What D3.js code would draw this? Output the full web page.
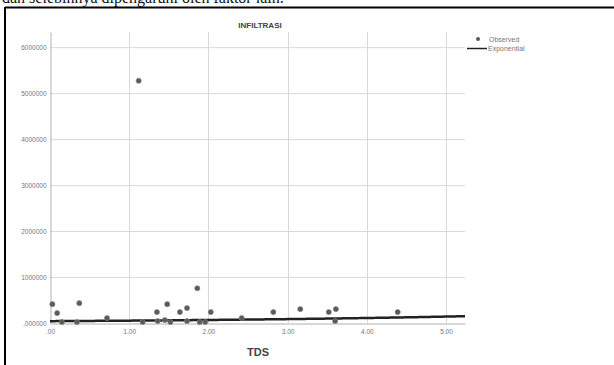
<!DOCTYPE html>
<html><head><meta charset="utf-8">
<script src="https://cdn.jsdelivr.net/npm/d3@7/dist/d3.min.js"></script>
<style>
html,body{margin:0;padding:0;background:#fff;}
svg{display:block;}
</style></head>
<body>
<svg id="c" width="614" height="365"></svg>
<script>
// Observed data: TDS vs INFILTRASI
const tds = [0.03,0.09,0.37,0.72,0.15,0.34,1.12,1.17,1.35,1.36,1.48,1.45,1.52,1.64,1.73,1.73,1.86,1.89,1.96,2.03,2.42,2.82,3.16,3.52,3.61,3.60,4.39];
const infiltrasi = [410000,216000,432000,108000,22000,22000,5270000,22000,238000,43000,410000,65000,22000,238000,324000,43000,756000,22000,22000,238000,108000,238000,302000,238000,302000,43000,238000];
// Exponential fit parameters
const expA = 40000;
const expB = 0.25;
const xTicks = [0,1,2,3,4,5];
const xTickLabels = [".00","1.00","2.00","3.00","4.00","5.00"];
const yTicks = [0,1000000,2000000,3000000,4000000,5000000,6000000];
const yTickLabels = [".000000","1000000","2000000","3000000","4000000","5000000","6000000"];
const legendLabels = ["Observed","Exponential"];

const svg = d3.select("#c");
const font = "Liberation Sans, Arial, sans-serif";

// caption text cut off at top
svg.append("text").attr("x",2).attr("y",3)
  .attr("font-family","Liberation Serif, Times New Roman, serif").attr("font-size",16)
  .attr("fill","#111").text("dan selebihnya dipengaruhi oleh faktor lain.");

// frame
svg.append("line").attr("x1",5).attr("x2",614).attr("y1",7.5).attr("y2",7.5).attr("stroke","#000").attr("stroke-width",2);
svg.append("line").attr("x1",5).attr("x2",5).attr("y1",7).attr("y2",365).attr("stroke","#000").attr("stroke-width",2);

const x = d3.scaleLinear().domain([0,5.24]).range([50,465]);
const y = d3.scaleLinear().domain([0,6330000]).range([323,32]);

// grid
const g = svg.append("g");
g.selectAll(".hg").data(yTicks.slice(1)).enter().append("line")
  .attr("x1",x(0)).attr("x2",x.range()[1]).attr("y1",d=>y(d)+0.5).attr("y2",d=>y(d)+0.5)
  .attr("stroke","#d9d9d9").attr("stroke-width",1);
g.selectAll(".vg").data(xTicks.slice(1)).enter().append("line")
  .attr("x1",d=>Math.round(x(d))+0.5).attr("x2",d=>Math.round(x(d))+0.5).attr("y1",y.range()[1]).attr("y2",y(0))
  .attr("stroke","#d9d9d9").attr("stroke-width",1);

// axes
const yAxis = d3.axisLeft(y).tickValues(yTicks).tickFormat((d,i)=>yTickLabels[i]).tickSize(0).tickPadding(4);
const ya = svg.append("g").attr("transform",`translate(${x(0)+0.5},0)`).call(yAxis);
ya.select(".domain").attr("stroke","#b0b0b0");
ya.selectAll("text").attr("font-family",font).attr("font-size",6.5).attr("fill","#777");

const xAxis = d3.axisBottom(x).tickValues(xTicks).tickFormat((d,i)=>xTickLabels[i]).tickSize(0).tickPadding(6);
const xa = svg.append("g").attr("transform",`translate(0,${y(0)+0.5})`).call(xAxis);
xa.select(".domain").attr("stroke","#b0b0b0");
xa.selectAll("text").attr("font-family",font).attr("font-size",6.5).attr("fill","#777");

// exponential curve
const curveX = d3.range(0, 5.24, 0.02).concat([5.24]);
const line = d3.line().x(d=>x(d)).y(d=>y(expA*Math.exp(expB*d)));
svg.append("path").datum(curveX).attr("d",line).attr("fill","none").attr("stroke","#222").attr("stroke-width",2.5);

// observed points
svg.selectAll(".pt").data(tds.map((t,i)=>[t,infiltrasi[i]])).enter().append("circle")
  .attr("cx",d=>x(d[0])).attr("cy",d=>y(d[1])).attr("r",2.6)
  .attr("fill","#5a5a5a").attr("stroke","#888").attr("stroke-width",0.6);

// title
svg.append("text").attr("x",260).attr("y",28).attr("text-anchor","middle")
  .attr("font-family",font).attr("font-weight","bold").attr("font-size",8).attr("fill","#444").text("INFILTRASI");

// x title
svg.append("text").attr("x",258).attr("y",356).attr("text-anchor","middle")
  .attr("font-family",font).attr("font-weight","bold").attr("font-size",11).attr("fill","#444").text("TDS");

// legend
svg.append("circle").attr("cx",478).attr("cy",39).attr("r",2).attr("fill","#5a5a5a");
svg.append("text").attr("x",489).attr("y",42).attr("font-family",font).attr("font-size",7).attr("fill","#777").text(legendLabels[0]);
svg.append("line").attr("x1",467).attr("x2",487).attr("y1",48.5).attr("y2",48.5).attr("stroke","#222").attr("stroke-width",1.5);
svg.append("text").attr("x",488).attr("y",51).attr("font-family",font).attr("font-size",7).attr("fill","#777").text(legendLabels[1]);
</script>
</body></html>
